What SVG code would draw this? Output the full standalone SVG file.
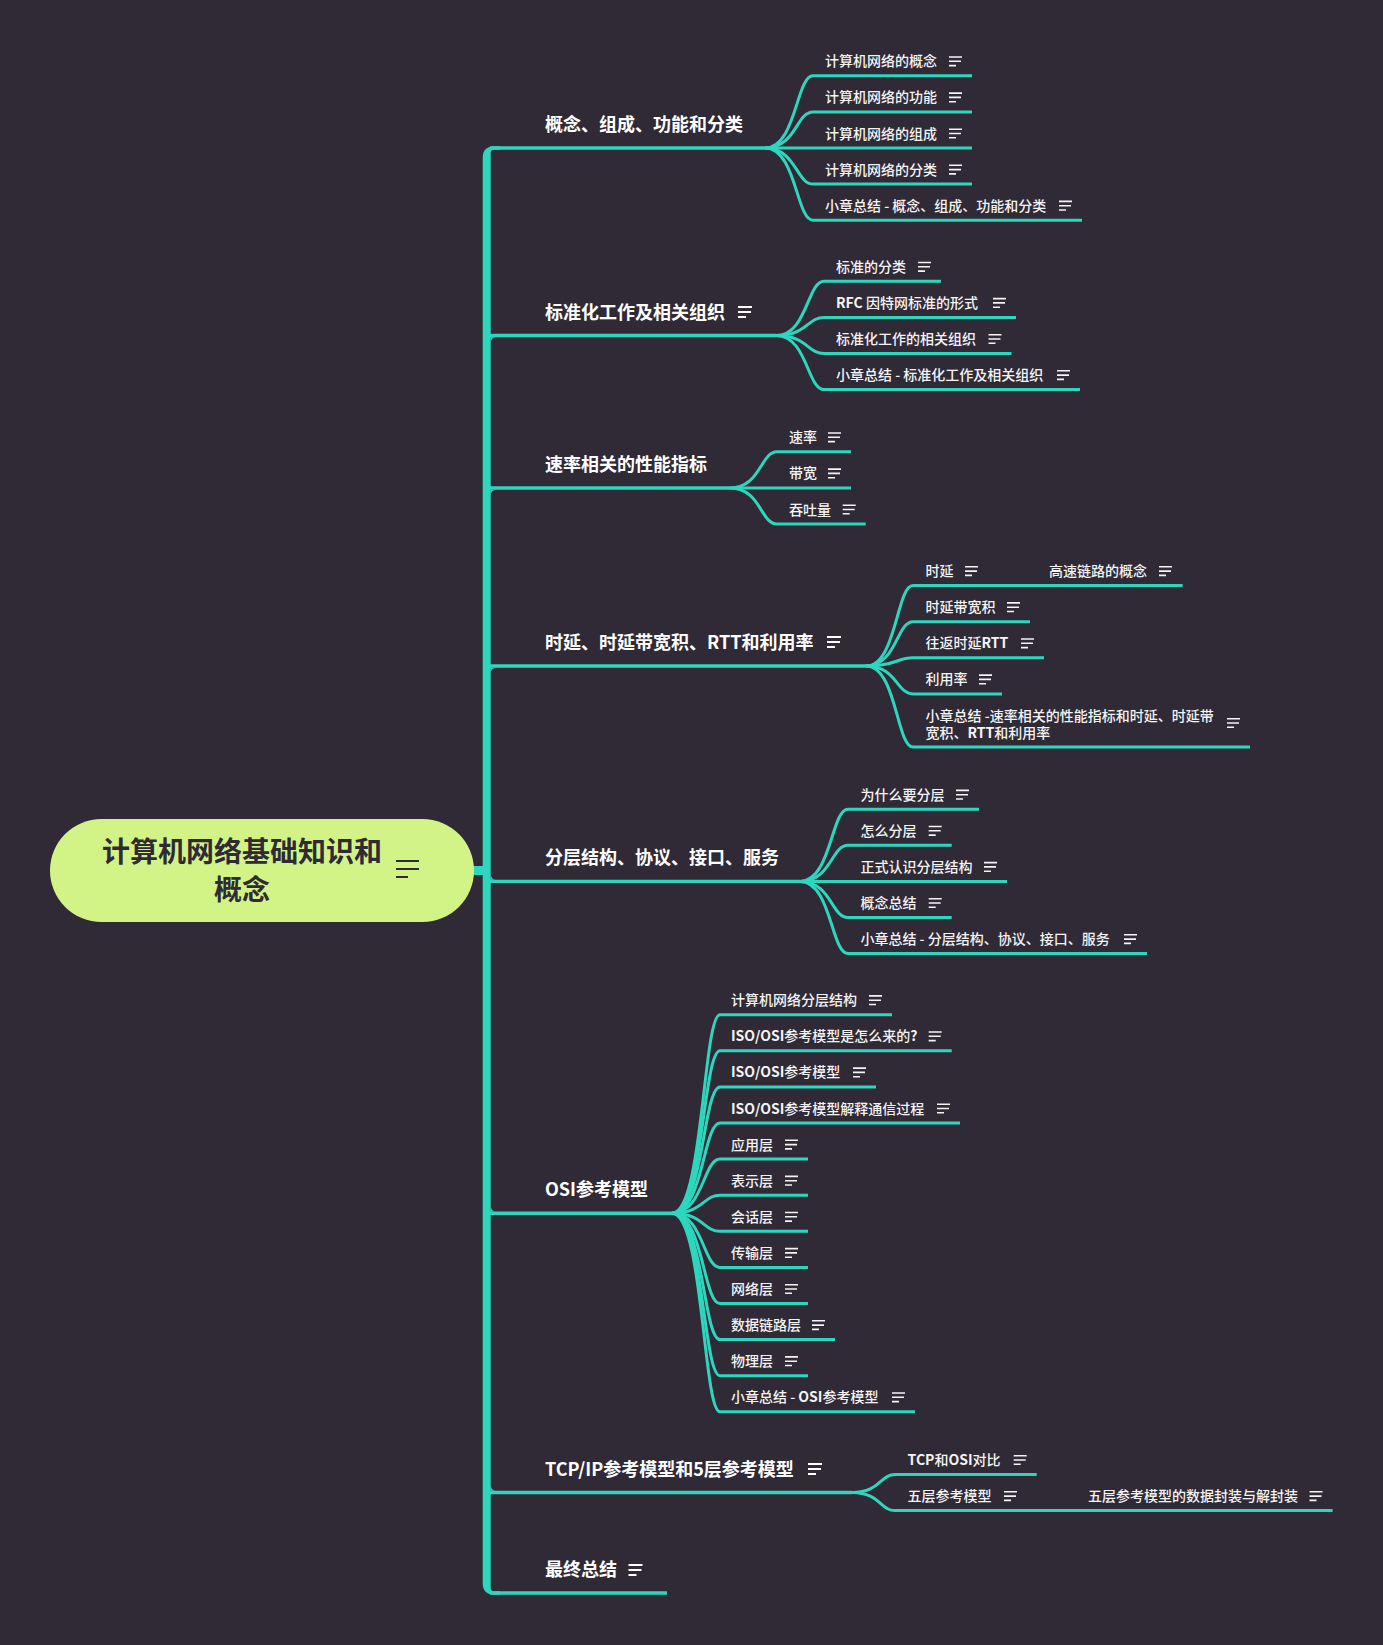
<svg xmlns="http://www.w3.org/2000/svg" xmlns:xlink="http://www.w3.org/1999/xlink" width="1383" height="1645" viewBox="0 0 1383 1645">
<style>
.ln{fill:none;stroke:#2ed6be;stroke-width:3;stroke-linecap:butt}
.bl{fill:none;stroke:#2ed6be;stroke-width:3.4}
.tf{fill:#2ed6be}
.br{font-family:"Noto Sans CJK SC","Noto Sans",sans-serif;font-size:18px;font-weight:700;fill:#ffffff}
.ch{font-family:"Noto Sans CJK SC","Noto Sans",sans-serif;font-size:14px;font-weight:500;fill:#f4f4f4}
.lb{font-weight:700}
.rt{font-family:"Noto Sans CJK SC","Noto Sans",sans-serif;font-size:28px;font-weight:700;fill:#2f2a35}
.is{stroke:#f4f4f4;stroke-width:1.6;fill:none}
.ib{stroke:#ffffff;stroke-width:2;fill:none}
.ir{stroke:#2f2a35;stroke-width:2.2;fill:none}
</style>
<defs>
<g id="icoS" class="is"><path d="M0,-4.3H13M0,0H12M0,4.3H7"/></g>
<g id="icoB" class="ib"><path d="M0,-5H14M0,0H13M0,5H8"/></g>
<g id="icoR" class="ir"><path d="M0,-8H23M0,0H23M0,8H12"/></g>
</defs>
<rect x="0" y="0" width="1383" height="1645" fill="#2f2a35"/>

<g id="connectors">
<rect class="tf" x="468" y="866" width="20" height="9"/>
<path class="tf" d="M482.7,1583 L482.7,158 Q482.7,146.3 494.4,146.3 L500,146.3 L500,149.7 L494,149.7 Q490.7,149.7 490.7,153 L490.7,1588 Q490.7,1591.3 494,1591.3 L500,1591.3 L500,1594.7 L494.4,1594.7 Q482.7,1594.7 482.7,1583 Z"/>
<path class="tf" d="M490.7,343.2 Q490.7,337.2 496.7,337.2 L490.7,337.2 Z"/>
<path class="tf" d="M490.7,495.7 Q490.7,489.7 496.7,489.7 L490.7,489.7 Z"/>
<path class="tf" d="M490.7,673.7 Q490.7,667.7 496.7,667.7 L490.7,667.7 Z"/>
<path class="tf" d="M490.7,873.7 Q490.7,879.7 496.7,879.7 L490.7,879.7 Z"/>
<path class="tf" d="M490.7,1205.5 Q490.7,1211.5 496.7,1211.5 L490.7,1211.5 Z"/>
<path class="tf" d="M490.7,1484.8 Q490.7,1490.8 496.7,1490.8 L490.7,1490.8 Z"/>
<!-- branch lines -->
<path class="bl" d="M490,148 H765"/>
<path class="bl" d="M490,335.5 H776"/>
<path class="bl" d="M490,488 H730"/>
<path class="bl" d="M490,666 H866"/>
<path class="bl" d="M490,881.4 H800"/>
<path class="bl" d="M490,1213.2 H672"/>
<path class="bl" d="M490,1492.5 H852"/>
<path class="bl" d="M490,1593 H667"/>
<!-- B1 children -->
<path class="ln" d="M765,148 C796.2,148 796.2,75.8 813,75.8 H972"/>
<path class="ln" d="M765,148 C796.2,148 796.2,111.9 813,111.9 H972"/>
<path class="ln" d="M765,148 H972"/>
<path class="ln" d="M765,148 C796.2,148 796.2,184.1 813,184.1 H972"/>
<path class="ln" d="M765,148 C796.2,148 796.2,220.2 813,220.2 H1082"/>
<!-- B2 children -->
<path class="ln" d="M776,335.5 C807.2,335.5 807.2,281.3 824,281.3 H941"/>
<path class="ln" d="M776,335.5 C807.2,335.5 807.2,317.4 824,317.4 H1016"/>
<path class="ln" d="M776,335.5 C807.2,335.5 807.2,353.5 824,353.5 H1011.5"/>
<path class="ln" d="M776,335.5 C807.2,335.5 807.2,389.6 824,389.6 H1080"/>
<!-- B3 children -->
<path class="ln" d="M730,488 C760.5,488 760.5,451.8 777,451.8 H851"/>
<path class="ln" d="M730,488 H851"/>
<path class="ln" d="M730,488 C760.5,488 760.5,524 777,524 H865.7"/>
<!-- B4 children -->
<path class="ln" d="M866,666 C896.5,666 896.5,585.6 913,585.6 H1182.6"/>
<path class="ln" d="M866,666 C896.5,666 896.5,621.7 913,621.7 H1030"/>
<path class="ln" d="M866,666 C896.5,666 896.5,657.8 913,657.8 H1044"/>
<path class="ln" d="M866,666 C896.5,666 896.5,693.9 913,693.9 H1002"/>
<path class="ln" d="M866,666 C896.5,666 896.5,747 913,747 H1250"/>
<!-- B5 children -->
<path class="ln" d="M800,881.4 C831.2,881.4 831.2,809.2 848,809.2 H979"/>
<path class="ln" d="M800,881.4 C831.2,881.4 831.2,845.3 848,845.3 H951.7"/>
<path class="ln" d="M800,881.4 H1007"/>
<path class="ln" d="M800,881.4 C831.2,881.4 831.2,917.5 848,917.5 H951.7"/>
<path class="ln" d="M800,881.4 C831.2,881.4 831.2,953.6 848,953.6 H1147"/>
<!-- B6 children -->
<path class="ln" d="M672,1213.2 C703.2,1213.2 703.2,1014.7 720,1014.7 H892"/>
<path class="ln" d="M672,1213.2 C703.2,1213.2 703.2,1050.8 720,1050.8 H951.7"/>
<path class="ln" d="M672,1213.2 C703.2,1213.2 703.2,1086.9 720,1086.9 H876"/>
<path class="ln" d="M672,1213.2 C703.2,1213.2 703.2,1123 720,1123 H960"/>
<path class="ln" d="M672,1213.2 C703.2,1213.2 703.2,1159.1 720,1159.1 H808"/>
<path class="ln" d="M672,1213.2 C703.2,1213.2 703.2,1195.2 720,1195.2 H808"/>
<path class="ln" d="M672,1213.2 C703.2,1213.2 703.2,1231.3 720,1231.3 H808"/>
<path class="ln" d="M672,1213.2 C703.2,1213.2 703.2,1267.4 720,1267.4 H808"/>
<path class="ln" d="M672,1213.2 C703.2,1213.2 703.2,1303.5 720,1303.5 H808"/>
<path class="ln" d="M672,1213.2 C703.2,1213.2 703.2,1339.6 720,1339.6 H835"/>
<path class="ln" d="M672,1213.2 C703.2,1213.2 703.2,1375.7 720,1375.7 H808"/>
<path class="ln" d="M672,1213.2 C703.2,1213.2 703.2,1411.8 720,1411.8 H915"/>
<!-- B7 children -->
<path class="ln" d="M852,1492.5 C880,1492.5 880,1474.5 895,1474.5 H1036.7"/>
<path class="ln" d="M852,1492.5 C880,1492.5 880,1510.6 895,1510.6 H1332.6"/>
</g>

<g id="root">
<rect x="50" y="819" width="424" height="103" rx="51.5" fill="#d2f486"/>
<text class="rt" x="242" y="862" text-anchor="middle">计算机网络基础知识和</text>
<text class="rt" x="242" y="900" text-anchor="middle">概念</text>
<use href="#icoR" x="396" y="869"/>
</g>

<g id="b1">
<text class="br" x="545" y="131">概念、组成、功能和分类</text>
</g>
<g id="b1c1"><text class="ch" x="825" y="66.3">计算机网络的概念</text><use href="#icoS" x="949" y="61.3"/></g>
<g id="b1c2"><text class="ch" x="825" y="102.4">计算机网络的功能</text><use href="#icoS" x="949" y="97.4"/></g>
<g id="b1c3"><text class="ch" x="825" y="138.5">计算机网络的组成</text><use href="#icoS" x="949" y="133.5"/></g>
<g id="b1c4"><text class="ch" x="825" y="174.6">计算机网络的分类</text><use href="#icoS" x="949" y="169.6"/></g>
<g id="b1c5"><text class="ch" x="825" y="210.7">小章总结 - 概念、组成、功能和分类</text><use href="#icoS" x="1059" y="205.7"/></g>

<g id="b2">
<text class="br" x="545" y="318.5">标准化工作及相关组织</text><use href="#icoB" x="738" y="312"/>
</g>
<g id="b2c1"><text class="ch" x="836" y="271.8">标准的分类</text><use href="#icoS" x="918" y="266.8"/></g>
<g id="b2c2"><text class="ch" x="836" y="307.9"><tspan class="lb">RFC</tspan> 因特网标准的形式</text><use href="#icoS" x="993" y="302.9"/></g>
<g id="b2c3"><text class="ch" x="836" y="344">标准化工作的相关组织</text><use href="#icoS" x="988.5" y="339"/></g>
<g id="b2c4"><text class="ch" x="836" y="380.1">小章总结 - 标准化工作及相关组织</text><use href="#icoS" x="1057" y="375.1"/></g>

<g id="b3">
<text class="br" x="545" y="471">速率相关的性能指标</text>
</g>
<g id="b3c1"><text class="ch" x="789" y="442.3">速率</text><use href="#icoS" x="828" y="437.3"/></g>
<g id="b3c2"><text class="ch" x="789" y="478.4">带宽</text><use href="#icoS" x="828" y="473.4"/></g>
<g id="b3c3"><text class="ch" x="789" y="514.5">吞吐量</text><use href="#icoS" x="842.7" y="509.5"/></g>

<g id="b4">
<text class="br" x="545" y="649">时延、时延带宽积、RTT和利用率</text><use href="#icoB" x="827" y="642"/>
</g>
<g id="b4c1"><text class="ch" x="925.5" y="576.1">时延</text><use href="#icoS" x="965" y="571.1"/></g>
<g id="b4c1s1"><text class="ch" x="1049" y="576.1">高速链路的概念</text><use href="#icoS" x="1159" y="571.1"/></g>
<g id="b4c2"><text class="ch" x="925.5" y="612.2">时延带宽积</text><use href="#icoS" x="1007" y="607.2"/></g>
<g id="b4c3"><text class="ch" x="925.5" y="648.3">往返时延<tspan class="lb">RTT</tspan></text><use href="#icoS" x="1021" y="643.3"/></g>
<g id="b4c4"><text class="ch" x="925.5" y="684.4">利用率</text><use href="#icoS" x="979" y="679.4"/></g>
<g id="b4c5"><text class="ch" x="925.5" y="720.5">小章总结 -速率相关的性能指标和时延、时延带</text><text class="ch" x="925.5" y="738.3">宽积、<tspan class="lb">RTT</tspan>和利用率</text><use href="#icoS" x="1227" y="723"/></g>

<g id="b5">
<text class="br" x="545" y="864.4">分层结构、协议、接口、服务</text>
</g>
<g id="b5c1"><text class="ch" x="860.4" y="799.7">为什么要分层</text><use href="#icoS" x="956" y="794.7"/></g>
<g id="b5c2"><text class="ch" x="860.4" y="835.8">怎么分层</text><use href="#icoS" x="928.7" y="830.8"/></g>
<g id="b5c3"><text class="ch" x="860.4" y="871.9">正式认识分层结构</text><use href="#icoS" x="984" y="866.9"/></g>
<g id="b5c4"><text class="ch" x="860.4" y="908">概念总结</text><use href="#icoS" x="928.7" y="903"/></g>
<g id="b5c5"><text class="ch" x="860.4" y="944.1">小章总结 - 分层结构、协议、接口、服务</text><use href="#icoS" x="1124" y="939.1"/></g>

<g id="b6">
<text class="br" x="545" y="1196">OSI参考模型</text>
</g>
<g id="b6c1"><text class="ch" x="731" y="1005.2">计算机网络分层结构</text><use href="#icoS" x="869" y="1000.2"/></g>
<g id="b6c2"><text class="ch" x="731" y="1041.3"><tspan class="lb">ISO/OSI</tspan>参考模型是怎么来的<tspan class="lb">?</tspan></text><use href="#icoS" x="928.7" y="1036.3"/></g>
<g id="b6c3"><text class="ch" x="731" y="1077.4"><tspan class="lb">ISO/OSI</tspan>参考模型</text><use href="#icoS" x="853" y="1072.4"/></g>
<g id="b6c4"><text class="ch" x="731" y="1113.5"><tspan class="lb">ISO/OSI</tspan>参考模型解释通信过程</text><use href="#icoS" x="937" y="1108.5"/></g>
<g id="b6c5"><text class="ch" x="731" y="1149.6">应用层</text><use href="#icoS" x="785" y="1144.6"/></g>
<g id="b6c6"><text class="ch" x="731" y="1185.7">表示层</text><use href="#icoS" x="785" y="1180.7"/></g>
<g id="b6c7"><text class="ch" x="731" y="1221.8">会话层</text><use href="#icoS" x="785" y="1216.8"/></g>
<g id="b6c8"><text class="ch" x="731" y="1257.9">传输层</text><use href="#icoS" x="785" y="1252.9"/></g>
<g id="b6c9"><text class="ch" x="731" y="1294">网络层</text><use href="#icoS" x="785" y="1289"/></g>
<g id="b6c10"><text class="ch" x="731" y="1330.1">数据链路层</text><use href="#icoS" x="812" y="1325.1"/></g>
<g id="b6c11"><text class="ch" x="731" y="1366.2">物理层</text><use href="#icoS" x="785" y="1361.2"/></g>
<g id="b6c12"><text class="ch" x="731" y="1402.3">小章总结 - <tspan class="lb">OSI</tspan>参考模型</text><use href="#icoS" x="892" y="1397.3"/></g>

<g id="b7">
<text class="br" x="545" y="1475.5">TCP/IP参考模型和5层参考模型</text><use href="#icoB" x="808" y="1469"/>
</g>
<g id="b7c1"><text class="ch" x="907.6" y="1465"><tspan class="lb">TCP</tspan>和<tspan class="lb">OSI</tspan>对比</text><use href="#icoS" x="1013.7" y="1460"/></g>
<g id="b7c2"><text class="ch" x="907.6" y="1501.1">五层参考模型</text><use href="#icoS" x="1004" y="1496.1"/></g>
<g id="b7c2s1"><text class="ch" x="1088" y="1501.1">五层参考模型的数据封装与解封装</text><use href="#icoS" x="1309.5" y="1496.1"/></g>

<g id="b8">
<text class="br" x="545" y="1576">最终总结</text><use href="#icoB" x="628.5" y="1570"/>
</g>
</svg>
